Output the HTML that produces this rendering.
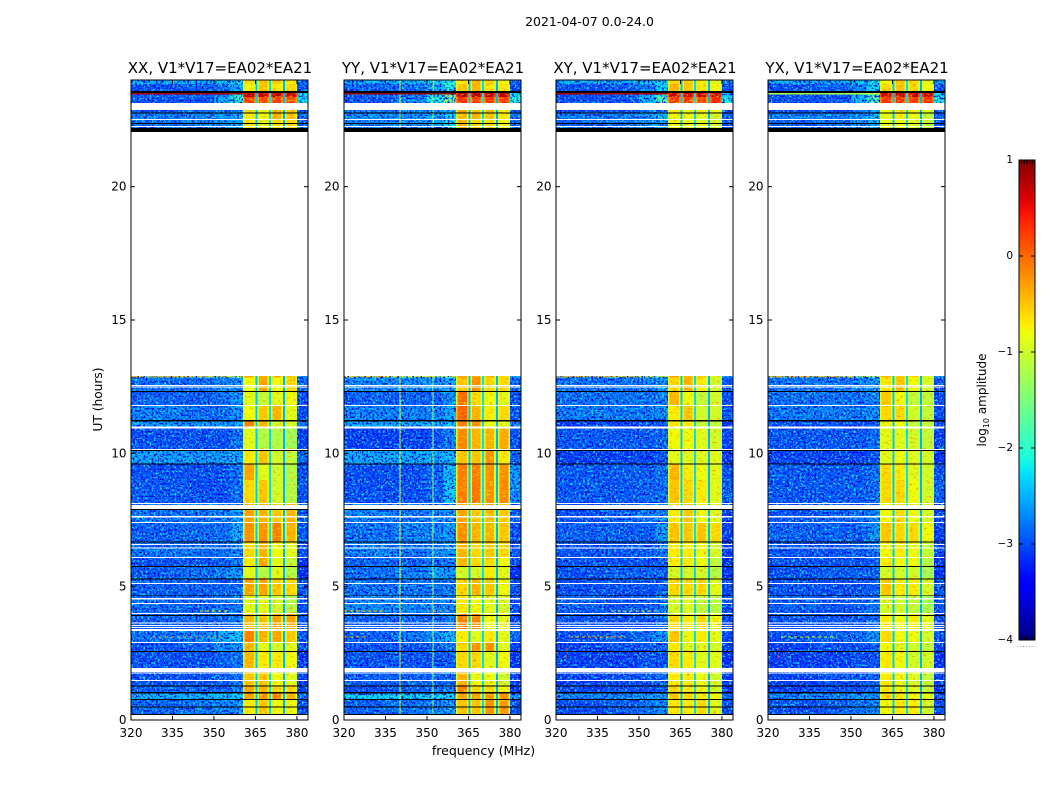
<!DOCTYPE html>
<html>
<head>
<meta charset="utf-8">
<title>2021-04-07 amplitude waterfall</title>
<style>
html,body{margin:0;padding:0;background:#fff;}
svg{display:block;}
text{font-family:"DejaVu Sans","Liberation Sans",sans-serif;fill:#000;}
</style>
</head>
<body>
<svg id="chart" xmlns="http://www.w3.org/2000/svg" width="1050" height="800" viewBox="0 0 1050 800">
<defs>
<filter id="speckle-light" x="0" y="0" width="100%" height="100%" color-interpolation-filters="sRGB">
<feTurbulence type="fractalNoise" baseFrequency="0.48" numOctaves="2" seed="7"/>
<feColorMatrix type="matrix" values="0 0 0 0 0.1  0 0 0 0 0.85  0 0 0 0 1  5.5 0 0 0 -2.75"/>
</filter>
<filter id="speckle-dark" x="0" y="0" width="100%" height="100%" color-interpolation-filters="sRGB">
<feTurbulence type="fractalNoise" baseFrequency="0.48" numOctaves="2" seed="23"/>
<feColorMatrix type="matrix" values="0 0 0 0 0  0 0 0 0 0.05  0 0 0 0 0.85  5.5 0 0 0 -2.75"/>
</filter>
<filter id="ripple-light" x="0" y="0" width="100%" height="100%" color-interpolation-filters="sRGB">
<feTurbulence type="fractalNoise" baseFrequency="0.3 0.5" numOctaves="2" seed="11"/>
<feColorMatrix type="matrix" values="0 0 0 0 0.9  0 0 0 0 1  0 0 0 0 0.1  3 0 0 0 -1.7"/>
</filter>
<filter id="ripple-dark" x="0" y="0" width="100%" height="100%" color-interpolation-filters="sRGB">
<feTurbulence type="fractalNoise" baseFrequency="0.3 0.5" numOctaves="2" seed="31"/>
<feColorMatrix type="matrix" values="0 0 0 0 1  0 0 0 0 0.5  0 0 0 0 0  3 0 0 0 -1.7"/>
</filter>
<linearGradient id="jet-gradient" x1="0" y1="1" x2="0" y2="0"></linearGradient>
</defs>
<text x="589.5" y="26" font-size="12.5" text-anchor="middle">2021-04-07 0.0-24.0</text>
<text x="483.5" y="755" font-size="12.5" text-anchor="middle">frequency (MHz)</text>
<text x="0" y="0" font-size="12.2" text-anchor="middle" transform="translate(102,399.5) rotate(-90)">UT (hours)</text>
<text x="0" y="0" font-size="12" text-anchor="middle" transform="translate(986,400) rotate(-90)">log<tspan font-size="8" dy="3">10</tspan><tspan dy="-3"> amplitude</tspan></text>
<g id="panels"></g>
<g id="colorbar"></g>
</svg>
<script>
// ---------- data ----------
const panelTitles = ["XX, V1*V17=EA02*EA21", "YY, V1*V17=EA02*EA21", "XY, V1*V17=EA02*EA21", "YX, V1*V17=EA02*EA21"];
const xTickValues = [320, 335, 350, 365, 380];
const yTickValues = [0, 5, 10, 15, 20];
const colorbarTicks = [1, 0, -1, -2, -3, -4];
const xDomain = [320, 384];
const yDomain = [0, 24];
const colorDomain = [-4, 1];

// frequency channels (MHz), one value column per channel group
const channelStarts = [320, 338, 350, 356, 360.5, 365.7, 370.6, 375.7, 380];
const channelEnds = [338, 350, 356, 360.5, 365, 369.9, 374.9, 380, 384];
// narrow channels between spectral windows: [start, end, log amplitude]
const windowGaps = [[365, 365.7, -2.4], [369.9, 370.6, -2.3], [374.9, 375.7, -2.5]];

// time rows (UT hours)
const rowTops = [24, 23.85, 23.59, 23.36, 22.875, 22.76, 22.54, 12.9, 12.84, 12.34, 11.81, 11.23, 10.99, 10.125, 9.6, 9.0, 8.14, 7.425, 6.675, 6.11, 5.775, 5.325, 4.69, 4.01, 3.375, 2.925, 2.59, 1.95, 1.31, 1.05, 0.75];
const rowBottoms = [23.85, 23.59, 23.36, 23.14, 22.76, 22.54, 22.2, 12.84, 12.34, 11.81, 11.23, 10.99, 10.125, 9.6, 9.0, 8.14, 7.425, 6.675, 6.11, 5.775, 5.325, 4.69, 4.01, 3.375, 2.925, 2.59, 1.95, 1.31, 1.05, 0.75, 0.225];

// log10 amplitude: one line per time row, one value per channel group
const valuesXX = [
[-2.5,-2.5,-2.4,-2.2,-.6,-.5,-.5,-.7,-2.8],
[-3,-2.9,-2.8,-2.5,-.8,-.5,-.7,-.6,-3],
[-2.9,-2.9,-2.7,-2,.75,.7,.75,.7,-2.2],
[-3,-3,-2.5,-1.9,.25,.2,.25,.2,-2.2],
[-2.9,-2.8,-2.6,-2.6,-.6,-.8,-.4,-.5,-2.9],
[-2.7,-2.7,-2.6,-2.4,-.7,-.8,-.4,-.5,-2.8],
[-2.8,-2.7,-2.6,-2.5,-.7,-.9,-.6,-.6,-2.8],
[-.5,-.6,-.9,-.8,-.3,-.4,-.3,-.5,-2.5],
[-2.8,-2.8,-2.7,-2.6,-.8,-.3,-.8,-.6,-2.9],
[-2.9,-2.9,-2.8,-2.6,-.9,-1.1,-.9,-.8,-3],
[-2.7,-2.8,-2.8,-2.6,-.8,-.5,-.4,-.9,-3],
[-2.6,-2.6,-2.6,-2.5,-.1,-.4,-1,-1,-2.8],
[-3,-3,-3,-2.8,-.9,-1.2,-1.2,-1.3,-3.1],
[-2.55,-2.6,-2.6,-2.5,-.7,-.5,-1,-1.1,-2.9],
[-3,-3,-3,-2.8,-.3,-.9,-1,-1.2,-3],
[-2.95,-3,-3,-2.8,-.6,-.5,-1,-1.2,-3],
[-2.8,-2.8,-2.7,-2.6,-.3,-.4,-.5,-.4,-3],
[-2.9,-2.85,-2.8,-2.5,-.2,-.2,-.1,-.4,-3],
[-2.8,-2.8,-2.8,-2.7,-.6,-.4,-.8,-.9,-3],
[-3,-3,-2.9,-2.8,-.7,-.3,-.9,-1.1,-3.2],
[-2.95,-2.8,-2.7,-2.6,-.9,-1.2,-.9,-1.2,-3.2],
[-2.9,-2.9,-2.9,-2.8,-.3,-.3,-.5,-.6,-3],
[-2.85,-2.9,-2.8,-2.7,-.9,-.9,-1,-1.2,-3],
[-2.9,-2.9,-2.9,-2.8,-.4,-.5,-.3,-.3,-3],
[-2.8,-2.7,-2.5,-2.3,-.1,-.4,-.3,-.5,-3],
[-3,-2.9,-2.7,-2.6,-.4,-.9,-1,-.9,-3],
[-3,-3,-2.9,-2.8,-.4,-.7,-.7,-.8,-3.2],
[-3,-3,-2.9,-2.8,-.5,-.5,-.8,-.9,-3.1],
[-2.9,-2.9,-2.9,-2.7,-.3,-.4,-.6,-.6,-3.1],
[-2.45,-2.45,-2.4,-2.3,-.3,-.2,-.1,-.4,-2.8],
[-2.85,-2.75,-2.7,-2.6,-.7,-.5,-.8,-.8,-3]
];
const valuesYY = [
[-2.5,-2.4,-2.2,-1.9,-.7,-.4,-.5,-.8,-2.8],
[-2.9,-2.8,-2.5,-2,-.5,-.4,-.7,-.7,-3],
[-2.9,-2.7,-2.2,-1.4,.75,.75,.75,.75,-2.2],
[-3,-2.7,-2.1,-1.4,.3,.25,.3,.3,-2],
[-2.8,-2.7,-2.6,-2.4,-.3,-.5,-.4,-.7,-3],
[-2.6,-2.6,-2.5,-2.3,-.5,-.4,-.5,-.7,-2.7],
[-2.7,-2.6,-2.5,-2.2,-.4,-.6,-.6,-.8,-2.8],
[-.6,-.8,-1,-1,-.3,-.3,-.4,-.6,-2.5],
[-2.65,-2.65,-2.6,-2.5,-.5,-.2,-.6,-.6,-2.8],
[-2.9,-2.9,-2.9,-2.6,0,-.6,-.8,-.9,-3],
[-2.7,-2.7,-2.7,-2.5,.05,-.4,-.7,-.6,-3],
[-2.5,-2.5,-2.5,-2.4,-.1,-.2,-.8,-.9,-2.8],
[-3.1,-3.1,-3,-2.7,-.15,-.4,-.4,-.35,-3],
[-2.5,-2.5,-2.5,-2.4,-.5,-.5,-.2,-.7,-2.9],
[-3,-3,-2.9,-2.4,-.1,-.1,-.2,-.2,-2.6],
[-3,-3,-2.9,-2.3,-.1,-.05,-.2,-.15,-2.6],
[-2.7,-2.8,-2.7,-2.6,-.3,-.5,-.4,-.5,-3],
[-2.8,-2.7,-2.7,-2.6,-.2,-.4,-.4,-.5,-3],
[-2.7,-2.8,-2.7,-2.6,-.4,-.6,-.5,-.6,-3],
[-2.9,-2.9,-2.8,-2.8,-.4,-.6,-.6,-.8,-3],
[-2.8,-2.7,-2.5,-2.6,-1,-1,-.7,-.9,-3.2],
[-2.8,-2.8,-2.8,-2.7,-.6,-.4,-.5,-.8,-3],
[-2.65,-2.7,-2.7,-2.7,-.7,-.8,-.9,-1,-3],
[-2.9,-2.9,-2.9,-2.8,-.1,-.15,-.8,-.9,-3.1],
[-2.9,-2.8,-2.6,-2.4,-.7,-.9,-.7,-.9,-2.9],
[-3,-3,-2.9,-2.8,-.6,-.2,-.2,-.9,-3.1],
[-3,-3,-3,-2.9,-.6,-.6,-.9,-.8,-3.2],
[-2.9,-2.9,-2.9,-2.8,-.4,-.8,-.8,-1,-3.1],
[-3,-2.9,-2.8,-2.6,-.1,-.6,-.6,-.8,-3.2],
[-2.25,-2.25,-2.25,-2.2,-.3,-.3,-.2,-.2,-2.6],
[-2.9,-2.8,-2.7,-2.6,-.5,-.5,-.2,-.25,-3]
];
const valuesXY = [
[-2.5,-2.5,-2.4,-2.2,-.6,-.5,-.7,-.9,-2.8],
[-3,-2.9,-2.7,-2.3,-.4,-.5,-.7,-.8,-3],
[-3,-2.9,-2.5,-1.8,.7,.65,.7,.7,-2.4],
[-3,-3,-2.4,-1.7,.3,.3,.2,.4,-2.1],
[-3,-3,-2.8,-2.6,-.7,-.8,-.7,-.8,-3.1],
[-2.7,-2.7,-2.6,-2.4,-.8,-.8,-.9,-1,-2.9],
[-2.9,-2.8,-2.6,-2.5,-.8,-.9,-.9,-1,-3],
[-.5,-.6,-1,-1,-.3,-.4,-.5,-.9,-2.6],
[-2.8,-2.8,-2.7,-2.6,-.6,-.4,-.7,-1,-3],
[-2.8,-2.8,-2.8,-2.7,-.4,-.8,-1.1,-1,-3],
[-2.75,-2.75,-2.75,-2.65,-.7,-.5,-1,-1,-3],
[-3.1,-3.1,-3,-2.9,-.7,-.7,-1.1,-1.1,-3.1],
[-2.95,-2.95,-2.95,-2.85,-.8,-.8,-.9,-1,-3.1],
[-3.1,-3.1,-3.1,-3,-.9,-.9,-.9,-.9,-3.2],
[-2.95,-2.95,-2.95,-2.8,-.4,-.7,-.8,-.9,-3],
[-2.95,-2.95,-2.9,-2.8,-.5,-.6,-.7,-.9,-2.9],
[-3,-2.9,-2.8,-2.7,-.7,-.5,-.8,-.9,-3.1],
[-2.9,-2.9,-2.9,-2.6,-.5,-.5,-.5,-.6,-3.1],
[-3,-3,-2.9,-2.8,-.7,-.7,-.8,-1,-3.1],
[-3,-3,-3,-2.9,-.7,-.7,-.8,-1.1,-3.2],
[-3,-2.9,-2.9,-2.9,-1,-1,-1,-1.2,-3.2],
[-3,-3,-3,-2.9,-.6,-.6,-.6,-.9,-3],
[-2.9,-3,-2.9,-2.8,-1,-.9,-1.1,-1.2,-3],
[-3,-3,-3,-2.9,-.6,-.7,-.6,-.8,-3.1],
[-3,-2.9,-2.8,-2.6,-.5,-.8,-.7,-.9,-3],
[-3.1,-3,-3,-2.9,-.7,-.9,-.9,-1,-3.1],
[-3.1,-3.1,-3,-3,-.6,-.7,-.9,-.9,-3.2],
[-3.1,-3,-3,-2.9,-.7,-.7,-.8,-1,-3.1],
[-3.1,-3,-3,-2.9,-.6,-.7,-.8,-1,-3.2],
[-2.7,-2.7,-2.6,-2.6,-.5,-.6,-.7,-.8,-2.9],
[-3,-2.9,-2.8,-2.7,-.7,-.7,-.6,-.9,-3]
];
const valuesYX = [
[-2.5,-2.5,-2.4,-2.2,-.8,-.5,-.6,-.9,-2.5],
[-3,-2.9,-2.7,-2.3,-.6,-.5,-.6,-.8,-3],
[-3,-2.9,-2.5,-1.8,.7,.7,.7,.7,-2.2],
[-3,-3,-2.4,-1.8,.3,.3,.3,.35,-2],
[-3,-3,-2.8,-2.6,-.8,-.7,-.7,-.9,-3.1],
[-2.7,-2.7,-2.6,-2.4,-.9,-.7,-.8,-1.1,-2.9],
[-2.9,-2.8,-2.6,-2.5,-.9,-.8,-.9,-1.1,-3],
[-.5,-.6,-1,-1,-.4,-.5,-.6,-1,-2.6],
[-2.8,-2.8,-2.7,-2.6,-.7,-.5,-.8,-1,-3],
[-2.8,-2.8,-2.8,-2.7,-.5,-.8,-1.1,-1.1,-3],
[-2.75,-2.75,-2.75,-2.65,-.6,-.6,-1,-1.1,-3],
[-3,-3,-3,-2.9,-.8,-.8,-1.1,-1.1,-3.1],
[-2.95,-2.95,-2.95,-2.85,-.9,-.9,-1,-1.1,-3.1],
[-3.1,-3.1,-3.1,-3,-.9,-.8,-.9,-1,-3.2],
[-2.95,-2.95,-2.95,-2.8,-.6,-.7,-.9,-1,-3],
[-2.95,-2.95,-2.9,-2.8,-.6,-.6,-.8,-1,-2.9],
[-3,-2.9,-2.8,-2.7,-.8,-.6,-.8,-1,-3.1],
[-2.9,-2.9,-2.9,-2.6,-.5,-.6,-.6,-.8,-3.1],
[-3,-3,-2.9,-2.8,-.8,-.7,-.8,-1.1,-3.1],
[-3,-3,-3,-2.9,-.7,-.8,-.8,-1.2,-3.2],
[-3,-2.9,-2.9,-2.9,-1,-1,-1,-1.3,-3.2],
[-3,-3,-3,-2.9,-.5,-.7,-.7,-1,-3],
[-2.9,-3,-2.9,-2.8,-1,-1,-1.1,-1.3,-3],
[-3,-3,-3,-2.9,-.7,-.8,-.7,-.9,-3.1],
[-3,-2.9,-2.8,-2.6,-.6,-.8,-.8,-1,-3],
[-3.1,-3,-3,-2.9,-.8,-.9,-1,-1.1,-3.1],
[-3.1,-3.1,-3,-3,-.7,-.8,-1,-1,-3.2],
[-3.1,-3,-3,-2.9,-.7,-.8,-.9,-1.1,-3.1],
[-3.1,-3,-3,-2.9,-.7,-.8,-.9,-1.1,-3.2],
[-2.7,-2.7,-2.6,-2.6,-.6,-.7,-.8,-.9,-2.9],
[-3,-2.9,-2.8,-2.7,-.8,-.7,-.7,-1,-3]
];
const panelValues = [valuesXX, valuesYY, valuesXY, valuesYX];

// thin stripe just below the top black flag, one level per panel
const topStripeLevels = [0.8, 0.9, 0.8, -1.2];
const topStripeHours = [23.51, 23.45];

// single-channel interference per panel: [frequency MHz, log amplitude]
const rfiChannels = [[], [[340, -0.9], [352, -1.3]], [], []];
// narrowband bursts in one time row: [hour, start MHz, end MHz, log amplitude]
const rfiBursts = [
  [[3.11, 328, 353, -0.3], [4.09, 345, 355, -0.8]],
  [[3.11, 320, 328, -0.5], [4.09, 320, 335, -0.5], [4.09, 350, 357, -0.4]],
  [[3.11, 325, 345, -0.4], [4.09, 340, 357, -0.9]],
  [[3.11, 325, 345, -1.0]]
];
// short vertical bursts: [frequency MHz, top hour, bottom hour, log amplitude]
const rfiStreaks = [
  [],
  [],
  [[323.7, 2.72, 2.22, 0.2]],
  [[323.7, 2.72, 2.22, 0.2]]
];

// flagged time ranges (UT hours): [top, bottom]
const whiteFlags = [[23.14,22.875],[22.54,22.5],[22.275,22.24],[12.56,12.525],[12.506,12.47],[11.81,11.775],[11.006,10.93],[10.16,10.125],[8.14,8.1],[8.06,7.91],[7.65,7.59],[7.425,7.39],[6.6,6.56],[6.47,6.43],[6.11,6.075],[5.14,5.1],[4.575,4.52],[4.39,4.35],[4.01,3.975],[3.66,3.62],[3.56,3.525],[3.49,3.45],[3.41,3.34],[2.925,2.89],[1.95,1.8],[1.78,1.74],[1.5,1.46]];
const blackFlags = [[23.59,23.51],[22.78,22.74],[22.39,22.35],[22.2,22.05],[12.34,12.3],[11.25,11.19],[10.125,10.09],[9.62,9.58],[7.91,7.875],[6.69,6.66],[5.775,5.74],[5.31,5.27],[4.67,4.65],[3.94,3.9],[2.59,2.55],[1.29,1.25],[1.05,.99],[.79,.75],[.51,.47],[.225,.19]];
// contiguous observing blocks (UT hours): [top, bottom]
const dataBlocks = [[24, 22.2], [12.9, 0.225]];

// ---------- layout ----------
const panelLefts = [131, 344, 556, 768];
const plotWidth = 177, plotTop = 80, plotBottom = 720;
const cbLeft = 1019, cbRight = 1035, cbTop = 160, cbBottom = 640;

// ---------- helpers ----------
const NS = "http://www.w3.org/2000/svg";
function make(tag, parent, attrs) {
  const el = document.createElementNS(NS, tag);
  for (const k in attrs) el.setAttribute(k, attrs[k]);
  parent.appendChild(el);
  return el;
}
function lerpStops(stops, t) {
  for (let i = 1; i < stops.length; i++) {
    if (t <= stops[i][0]) {
      const a = stops[i - 1], b = stops[i];
      return a[1] + (b[1] - a[1]) * (t - a[0]) / (b[0] - a[0]);
    }
  }
  return stops[stops.length - 1][1];
}
const jetR = [[0,0],[.35,0],[.66,1],[.89,1],[1,.5]];
const jetG = [[0,0],[.125,0],[.375,1],[.64,1],[.91,0],[1,0]];
const jetB = [[0,.5],[.11,1],[.34,1],[.65,0],[1,0]];
function jet(t) {
  t = Math.max(0, Math.min(1, t));
  return "rgb(" + Math.round(255 * lerpStops(jetR, t)) + "," + Math.round(255 * lerpStops(jetG, t)) + "," + Math.round(255 * lerpStops(jetB, t)) + ")";
}
function colorScale(v) { return jet((v - colorDomain[0]) / (colorDomain[1] - colorDomain[0])); }
function xScale(left, f) { return left + (f - xDomain[0]) / (xDomain[1] - xDomain[0]) * plotWidth; }
function yScale(h) { return plotBottom - (h - yDomain[0]) / (yDomain[1] - yDomain[0]) * (plotBottom - plotTop); }
function cbScale(v) { return cbBottom - (v - colorDomain[0]) / (colorDomain[1] - colorDomain[0]) * (cbBottom - cbTop); }
function fmt(v) { return v < 0 ? "\u2212" + Math.abs(v) : String(v); }
function edgeLevel(v) { return v > 0 ? v - 0.5 : Math.min(v, -0.9); }

// ---------- panels ----------
const panelsRoot = document.getElementById("panels");
panelTitles.forEach(function (title, p) {
  const left = panelLefts[p];
  const right = left + plotWidth;
  const g = make("g", panelsRoot, {});
  
  

  const cells = make("g", g, { "shape-rendering": "crispEdges" });
  
  

  const matrix = panelValues[p];
  matrix.forEach(function (row, r) {
    const y0 = yScale(rowTops[r]), y1 = yScale(rowBottoms[r]);
    row.forEach(function (v, c) {
      const x0 = xScale(left, channelStarts[c]), x1 = xScale(left, channelEnds[c]);
      const cell = make("rect", cells, { x: x0, y: y0, width: x1 - x0, height: y1 - y0, fill: colorScale(v) });
      
      
    });
    windowGaps.forEach(function (gap) {
      const x0 = xScale(left, gap[0]), x1 = xScale(left, gap[1]);
      const cell = make("rect", cells, { x: x0, y: y0, width: x1 - x0, height: y1 - y0, fill: colorScale(gap[2]) });
      
      
    });
  });

  // receiver noise texture over the off-band and in-band channels
  dataBlocks.forEach(function (block) {
    const y0 = yScale(block[0]), y1 = yScale(block[1]);
    [[xDomain[0], channelEnds[3]], [channelStarts[8], xDomain[1]]].forEach(function (range) {
      const x0 = xScale(left, range[0]), x1 = xScale(left, range[1]);
      ["speckle-light", "speckle-dark"].forEach(function (f) {
        const t = make("rect", cells, { x: x0, y: y0, width: x1 - x0, height: y1 - y0, filter: "url(#" + f + ")" });
        
        
      });
    });
    for (let c = 4; c < 8; c++) {
      const x0 = xScale(left, channelStarts[c]), x1 = xScale(left, channelEnds[c]);
      ["ripple-light", "ripple-dark"].forEach(function (f) {
        const t = make("rect", cells, { x: x0, y: y0, width: x1 - x0, height: y1 - y0, filter: "url(#" + f + ")" });
        
        
      });
    }
  });

  // window roll-off at band edges
  matrix.forEach(function (row, r) {
    const y0 = yScale(rowTops[r]), y1 = yScale(rowBottoms[r]);
    for (let c = 4; c < 8; c++) {
      [channelStarts[c], channelEnds[c] - 0.6].forEach(function (f) {
        const x0 = xScale(left, f), x1 = xScale(left, f + 0.6);
        const e = make("rect", cells, { x: x0, y: y0, width: x1 - x0, height: y1 - y0, fill: colorScale(edgeLevel(row[c])) });
        
        
      });
    }
  });

  rfiChannels[p].forEach(function (rfi) {
    dataBlocks.forEach(function (block) {
      const x0 = xScale(left, rfi[0]);
      const line = make("rect", cells, { x: x0, y: yScale(block[0]), width: 1, height: yScale(block[1]) - yScale(block[0]), fill: colorScale(rfi[1]) });
      
      
    });
  });
  rfiBursts[p].forEach(function (b) {
    const burst = make("line", cells, { x1: xScale(left, b[1]), x2: xScale(left, b[2]), y1: yScale(b[0]), y2: yScale(b[0]), stroke: colorScale(b[3]), "stroke-dasharray": "3 3" });
    
    
  });
  rfiStreaks[p].forEach(function (s) {
    const streak = make("line", cells, { x1: xScale(left, s[0]), x2: xScale(left, s[0]), y1: yScale(s[1]), y2: yScale(s[2]), stroke: colorScale(s[3]), "stroke-dasharray": "4 3" });
    
    
  });

  whiteFlags.forEach(function (f) {
    const flag = make("rect", cells, { x: left, y: yScale(f[0]), width: plotWidth, height: yScale(f[1]) - yScale(f[0]), fill: "#fff" });
    
    
  });
  blackFlags.forEach(function (f) {
    const flag = make("rect", cells, { x: left, y: yScale(f[0]), width: plotWidth, height: yScale(f[1]) - yScale(f[0]), fill: "#000" });
    
    
  });
  const stripe = make("rect", cells, { x: left, y: yScale(topStripeHours[0]), width: xScale(left, channelStarts[4]) - left, height: yScale(topStripeHours[1]) - yScale(topStripeHours[0]), fill: colorScale(topStripeLevels[p]) });
  
  

  const frame = make("rect", g, { x: left, y: plotTop, width: plotWidth, height: plotBottom - plotTop, fill: "none", stroke: "#000", "stroke-width": 1 });
  
  

  xTickValues.forEach(function (v) {
    const x = xScale(left, v);
    const t1 = make("line", g, { x1: x, x2: x, y1: plotBottom, y2: plotBottom - 4, stroke: "#000" });
    
    
    const t2 = make("line", g, { x1: x, x2: x, y1: plotTop, y2: plotTop + 4, stroke: "#000" });
    
    
    const lab = make("text", g, { x: x, y: 737, "font-size": 12, "text-anchor": "middle" });
    
    
    lab.textContent = v;
  });
  yTickValues.forEach(function (v) {
    const y = yScale(v);
    const t1 = make("line", g, { x1: left, x2: left + 4, y1: y, y2: y, stroke: "#000" });
    
    
    const t2 = make("line", g, { x1: right, x2: right - 4, y1: y, y2: y, stroke: "#000" });
    
    
    const lab = make("text", g, { x: left - 4.5, y: y + 4, "font-size": 12, "text-anchor": "end" });
    
    
    lab.textContent = v;
  });

  const ttl = make("text", g, { x: left + plotWidth / 2 + 0.5, y: 73, "font-size": 15, "text-anchor": "middle" });
  
  
  ttl.textContent = title;
});

// ---------- colorbar ----------
const grad = document.getElementById("jet-gradient");
for (let i = 0; i <= 50; i++) {
  make("stop", grad, { offset: (i * 2) + "%", "stop-color": jet(i / 50) });
}
const cb = document.getElementById("colorbar");
const cbRect = make("rect", cb, { x: cbLeft, y: cbTop, width: cbRight - cbLeft, height: cbBottom - cbTop, fill: "url(#jet-gradient)", stroke: "#000", "stroke-width": 1 });


colorbarTicks.forEach(function (v) {
  const y = cbScale(v);
  const a = make("line", cb, { x1: cbLeft, x2: cbLeft + 4, y1: y, y2: y, stroke: "#000" });
  
  
  const b = make("line", cb, { x1: cbRight, x2: cbRight - 4, y1: y, y2: y, stroke: "#000" });
  
  
  const lab = make("text", cb, { x: 1013, y: y + 3, "font-size": 10.5, "text-anchor": "end" });
  
  
  lab.textContent = fmt(v);
});
for (let i = 1; i <= 5; i++) {
  const x = cbLeft + i * (cbRight - cbLeft) / 6;
  const a = make("line", cb, { x1: x, x2: x, y1: cbTop, y2: cbTop + 4, stroke: "#000" });
  
  
  const b = make("line", cb, { x1: x, x2: x, y1: cbBottom, y2: cbBottom - 4, stroke: "#000" });
  
  
}
for (let i = 0; i <= 6; i++) {
  const d = make("rect", cb, { x: 1017.5 + i * 2.8, y: 646, width: 1, height: 1, fill: "#999" });
  
  
}
</script>
</body>
</html>
